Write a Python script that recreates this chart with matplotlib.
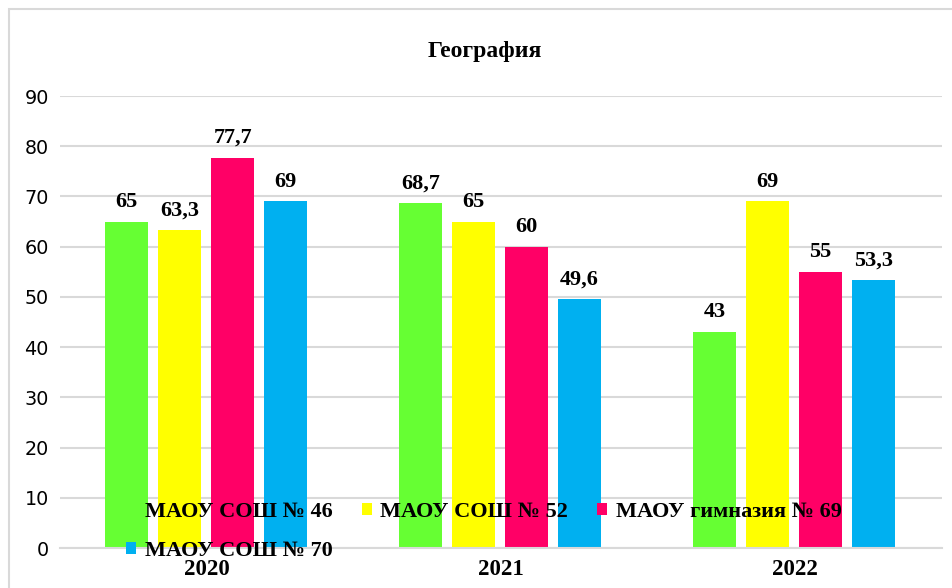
import matplotlib.pyplot as plt
import numpy as np
from matplotlib.patches import Rectangle

years = ['2020', '2021', '2022']
schools = ['МАОУ СОШ № 46', 'МАОУ СОШ № 52', 'МАОУ гимназия № 69', 'МАОУ СОШ № 70']
scores = [
    [65, 68.7, 43],
    [63.3, 65, 69],
    [77.7, 60, 55],
    [69, 49.6, 53.3],
]
colors = ['#66FF33', '#FFFF00', '#FF0066', '#00B0F0']

serif = 'Liberation Serif'

fig = plt.figure(figsize=(9.53, 5.88), dpi=100)
ax = fig.add_axes([60/953, 1-548/588, 882/953, 452/588])

x = np.arange(len(years))
step = 0.18
width = 0.146
bars = []
for i, vals in enumerate(scores):
    b = ax.bar(x + (i - 1.5) * step - 0.003, vals, width, color=colors[i], label=schools[i], zorder=2)
    bars.append(b)
    ax.bar_label(b, labels=[('%g' % v).replace('.', ',') for v in vals], padding=7,
                 fontsize=16, fontweight='bold', family=serif)

ax.set_xlim(-0.5, 2.5)
ax.set_ylim(0, 90)
ax.set_yticks(np.arange(0, 91, 10))
ax.set_xticks(x)
ax.set_xticklabels(years, fontsize=16.5, fontweight='bold', family=serif)
ax.tick_params(axis='y', labelsize=13.8, length=0, pad=8)
ax.tick_params(axis='x', length=0, pad=8)
ax.grid(axis='y', color='#d9d9d9', linewidth=1.5, zorder=0)
for s in ['top', 'right', 'left']:
    ax.spines[s].set_visible(False)
ax.spines['bottom'].set_color('#d9d9d9')
ax.spines['bottom'].set_linewidth(1.5)

fig.text(485/953, 1-52/588, 'География', ha='center', va='center',
         fontsize=17, fontweight='bold', family=serif)

# legend, reordered so it fills rows like the original
order = [0, 3, 1, 2]
leg = fig.legend([bars[k] for k in order], [schools[k] for k in order],
                 loc='upper left', bbox_to_anchor=(126/953, 1-502/588), ncol=3,
                 frameon=False, borderpad=0, borderaxespad=0,
                 handlelength=0.45, handleheight=0.45, handletextpad=0.4,
                 columnspacing=1.3, labelspacing=0.85,
                 prop={'family': serif, 'weight': 'bold', 'size': 16})
leg.set_zorder(5)

fig.patches.append(Rectangle((9/953, -0.1), 1.1, 1.1 - 9/588, transform=fig.transFigure,
                             fill=False, edgecolor='#d9d9d9', linewidth=1.5))

fig.savefig('out.png', dpi=100)
